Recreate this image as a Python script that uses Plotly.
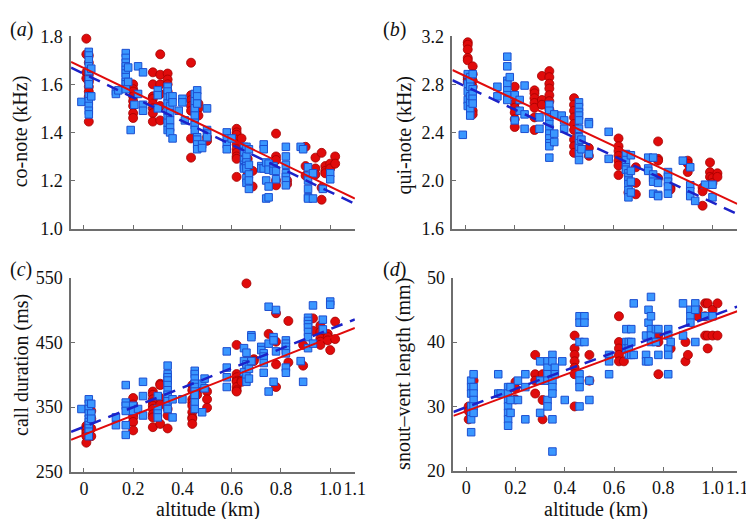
import plotly.graph_objects as go

# ---------------- data ----------------
# groups: (altitude km, [values...])
A_RED = [(0.01, [1.79, 1.725, 1.65, 1.625]),
         (0.02, [1.72, 1.69, 1.66, 1.64, 1.62, 1.61, 1.59, 1.57, 1.55, 1.445]),
         (0.2, [1.60, 1.58, 1.57, 1.55, 1.53, 1.51, 1.48, 1.46]),
         (0.28, [1.65, 1.60, 1.55, 1.54, 1.52, 1.50, 1.48, 1.445]),
         (0.31, [1.725, 1.64, 1.60, 1.56, 1.51, 1.45]),
         (0.34, [1.645, 1.62, 1.60, 1.57]),
         (0.435, [1.69, 1.555, 1.535, 1.51, 1.49, 1.375, 1.295]),
         (0.465, [1.52, 1.50, 1.47]),
         (0.5, [1.38, 1.365]),
         (0.62, [1.415, 1.40, 1.39, 1.37, 1.35, 1.33, 1.315, 1.30, 1.29, 1.215]),
         (0.64, [1.375]),
         (0.665, [1.29, 1.225, 1.19]),
         (0.685, [1.24, 1.175]),
         (0.78, [1.395, 1.30, 1.285, 1.20, 1.18]),
         (0.825, [1.20, 1.185]),
         (0.9, [1.34, 1.26, 1.22]),
         (0.94, [1.295, 1.25, 1.225]),
         (0.965, [1.315, 1.17, 1.12]),
         (0.98, [1.26, 1.24, 1.23]),
         (1.0, [1.27, 1.25]),
         (1.02, [1.30, 1.27])]
A_BLUE = [(-0.01, [1.527]),
          (0.02, [1.735, 1.72, 1.70, 1.675, 1.655, 1.62, 1.60, 1.55, 1.53, 1.51, 1.49, 1.475]),
          (0.03, [1.665, 1.55]),
          (0.13, [1.57, 1.56]),
          (0.14, [1.575]),
          (0.17, [1.73, 1.71, 1.69, 1.675, 1.66, 1.645, 1.63, 1.61, 1.60, 1.58]),
          (0.18, [1.67, 1.61]),
          (0.19, [1.41]),
          (0.205, [1.515]),
          (0.22, [1.675, 1.56]),
          (0.24, [1.65, 1.515, 1.49]),
          (0.3, [1.575, 1.555, 1.50]),
          (0.34, [1.59, 1.57, 1.545, 1.52, 1.49, 1.46, 1.44, 1.41]),
          (0.35, [1.55, 1.51, 1.48, 1.45, 1.42, 1.40]),
          (0.36, [1.55, 1.525, 1.375]),
          (0.385, [1.49]),
          (0.4, [1.54, 1.525]),
          (0.41, [1.45]),
          (0.45, [1.56, 1.53, 1.50, 1.47, 1.44, 1.43, 1.41]),
          (0.46, [1.575, 1.55, 1.52, 1.38, 1.37, 1.35, 1.33]),
          (0.48, [1.35, 1.335]),
          (0.5, [1.50, 1.41, 1.395, 1.38]),
          (0.58, [1.40, 1.375, 1.35, 1.33]),
          (0.6, [1.375]),
          (0.65, [1.34, 1.32, 1.285, 1.265, 1.255, 1.25]),
          (0.66, [1.34, 1.30, 1.275, 1.26, 1.25, 1.21, 1.19]),
          (0.67, [1.33, 1.265, 1.225, 1.20, 1.165]),
          (0.72, [1.26, 1.25]),
          (0.73, [1.35, 1.33, 1.25]),
          (0.74, [1.275, 1.20, 1.125]),
          (0.75, [1.27, 1.245, 1.175, 1.13]),
          (0.77, [1.26, 1.25, 1.24]),
          (0.78, [1.24, 1.205]),
          (0.82, [1.34, 1.30, 1.265, 1.23, 1.215, 1.20, 1.18]),
          (0.88, [1.34]),
          (0.89, [1.33]),
          (0.91, [1.255, 1.22, 1.20, 1.165, 1.13, 1.125]),
          (0.93, [1.125, 1.23]),
          (0.97, [1.165]),
          (1.0, [1.23, 1.205])]

B_RED = [(0.01, [3.15, 3.13, 3.09, 3.02, 3.0, 2.86, 2.84, 2.82]),
         (0.03, [2.95, 2.885, 2.83, 2.78, 2.58, 2.55]),
         (0.2, [2.78, 2.645, 2.605, 2.565, 2.51, 2.445]),
         (0.28, [2.75, 2.725, 2.685, 2.645, 2.605, 2.525, 2.42]),
         (0.31, [2.87, 2.67, 2.63]),
         (0.34, [2.91, 2.86, 2.805, 2.765, 2.71, 2.66, 2.59, 2.55]),
         (0.44, [2.685, 2.63, 2.58, 2.525, 2.47, 2.42, 2.34, 2.285, 2.23]),
         (0.5, [2.27, 2.205]),
         (0.62, [2.35, 2.285, 2.245, 2.205, 2.165, 2.125, 2.045]),
         (0.66, [1.90]),
         (0.69, [2.11, 1.98, 1.885]),
         (0.78, [2.325, 2.18, 2.165, 2.02]),
         (0.83, [1.94, 1.925]),
         (0.9, [2.165, 2.14, 2.07]),
         (0.96, [1.94, 1.91, 1.79]),
         (0.99, [2.15, 2.07, 2.03]),
         (1.0, [2.02, 1.98]),
         (1.02, [2.06, 2.03])]
B_BLUE = [(-0.01, [2.38]),
          (0.01, [2.885, 2.805, 2.74, 2.67, 2.62]),
          (0.02, [2.86, 2.83, 2.78, 2.70, 2.645, 2.59, 2.54]),
          (0.03, [2.885, 2.76, 2.72, 2.68, 2.64]),
          (0.13, [2.78, 2.70]),
          (0.17, [3.03, 2.95, 2.83, 2.805, 2.75, 2.71, 2.67]),
          (0.18, [2.86]),
          (0.2, [2.71, 2.50]),
          (0.22, [2.67, 2.58]),
          (0.24, [2.79, 2.55, 2.43]),
          (0.3, [2.525, 2.43]),
          (0.34, [2.63, 2.58, 2.525, 2.47, 2.43, 2.39, 2.35, 2.31, 2.285, 2.19]),
          (0.36, [2.55, 2.39, 2.32]),
          (0.39, [2.54]),
          (0.4, [2.50, 2.43]),
          (0.46, [2.65, 2.61, 2.57, 2.54, 2.50, 2.43, 2.36, 2.31, 2.27, 2.22, 2.17]),
          (0.47, [2.34, 2.26]),
          (0.5, [2.485, 2.47, 2.22]),
          (0.58, [2.405, 2.18]),
          (0.65, [2.22, 2.17, 2.11, 2.09]),
          (0.66, [2.06, 2.03, 2.00, 1.97, 1.92, 1.86]),
          (0.67, [2.21, 2.08, 1.99, 1.90]),
          (0.74, [2.19, 2.10, 2.08]),
          (0.76, [2.19, 2.05, 2.02, 1.99, 1.89]),
          (0.78, [1.98, 1.88, 1.87]),
          (0.82, [2.07, 2.03, 1.99, 1.95, 1.89]),
          (0.88, [2.165]),
          (0.91, [2.11, 1.96, 1.91, 1.87]),
          (0.93, [1.83]),
          (0.97, [1.965]),
          (1.0, [1.965, 1.86])]

C_RED = [(0.01, [321, 317, 315, 310, 305, 295]),
         (0.03, [344, 332, 317, 305]),
         (0.2, [364, 354, 347, 339, 334, 327, 314]),
         (0.28, [374, 369, 362, 357, 352, 347, 339, 334, 319]),
         (0.31, [386, 384, 364, 354, 324]),
         (0.34, [347, 337, 317]),
         (0.44, [384, 376, 362, 357, 352, 342, 334, 332, 324]),
         (0.46, [376, 369]),
         (0.5, [374, 362, 349]),
         (0.62, [446, 401, 396, 391, 389, 381, 376, 374]),
         (0.64, [391, 389]),
         (0.66, [541, 421, 416]),
         (0.69, [424, 421]),
         (0.75, [463]),
         (0.78, [495, 451, 416, 381]),
         (0.83, [483, 419]),
         (0.89, [446, 414]),
         (0.93, [487, 468]),
         (0.96, [476, 466, 456, 451, 446]),
         (0.99, [463, 458, 453]),
         (1.0, [438]),
         (1.02, [482, 455])]
C_BLUE = [(-0.01, [347]),
          (0.02, [362, 355, 347, 340, 332, 327, 322, 317, 312, 305]),
          (0.03, [355, 340, 332]),
          (0.13, [334, 322]),
          (0.17, [384, 357, 352, 344, 322, 307]),
          (0.2, [352, 344]),
          (0.22, [347]),
          (0.24, [389, 367, 337]),
          (0.3, [367, 347, 340, 334]),
          (0.34, [414, 401, 396, 391, 384, 376, 369, 359, 347]),
          (0.36, [362, 334]),
          (0.4, [362]),
          (0.45, [406, 401, 394, 386, 381, 374, 369, 357, 347]),
          (0.48, [386, 342]),
          (0.49, [394, 379]),
          (0.58, [436, 411, 396, 381]),
          (0.65, [441, 421, 404]),
          (0.66, [434, 416, 399, 389]),
          (0.67, [409, 394]),
          (0.68, [461, 458, 421]),
          (0.72, [443, 438]),
          (0.73, [433, 428, 418, 403]),
          (0.75, [505, 374, 448]),
          (0.77, [458, 453, 389]),
          (0.78, [500, 436]),
          (0.82, [453, 448, 443, 438, 433, 411, 403]),
          (0.88, [421]),
          (0.89, [389]),
          (0.91, [488, 483, 478, 473, 466, 458, 441]),
          (0.93, [507, 448]),
          (0.97, [485, 470]),
          (1.0, [513, 508])]

D_RED = [(0.01, [30, 29.3, 28]),
         (0.03, [34]),
         (0.2, [33.8, 32.8, 31.1]),
         (0.28, [38, 35, 34, 32]),
         (0.31, [35, 31, 28]),
         (0.34, [34]),
         (0.44, [41, 39, 38, 37, 36, 35, 30]),
         (0.5, [38, 34]),
         (0.62, [44, 40, 39, 38, 37]),
         (0.64, [37]),
         (0.78, [41, 40, 35]),
         (0.83, [39]),
         (0.89, [40, 37]),
         (0.9, [38]),
         (0.94, [45, 44]),
         (0.97, [46, 44, 41]),
         (0.98, [46, 41, 39]),
         (1.0, [45, 41]),
         (1.02, [46, 41])]
D_BLUE = [(0.02, [34, 33, 32, 30, 29, 28, 26]),
          (0.03, [35, 33, 32, 31, 30, 29]),
          (0.13, [35, 32]),
          (0.14, [32]),
          (0.17, [33, 32, 31, 30, 29, 28, 27]),
          (0.18, [33, 31, 29]),
          (0.21, [34, 31]),
          (0.24, [35, 33, 28]),
          (0.3, [37, 34, 29]),
          (0.33, [37, 36, 35, 34, 31, 30]),
          (0.35, [38, 37, 34, 33, 32, 28, 23]),
          (0.36, [36, 35]),
          (0.39, [37]),
          (0.4, [31]),
          (0.46, [44, 43, 40, 35, 34, 33, 30]),
          (0.48, [44, 43, 40]),
          (0.5, [34, 31]),
          (0.58, [38, 37, 35]),
          (0.65, [42, 40, 39]),
          (0.66, [40, 39, 38]),
          (0.67, [42, 40, 38]),
          (0.68, [46, 38]),
          (0.73, [41, 38, 37]),
          (0.74, [45, 43, 37]),
          (0.75, [47, 44, 42, 41, 40]),
          (0.77, [42, 40]),
          (0.78, [42, 38]),
          (0.82, [42, 41, 39, 38, 35]),
          (0.83, [40]),
          (0.88, [46, 41]),
          (0.91, [45, 44, 43]),
          (0.93, [46, 45, 40]),
          (0.97, [44]),
          (1.0, [44])]

# regression lines: (intercept, slope)
FIT_RED = [(1.668, -0.494), (2.869, -0.967), (307.1, 150.0), (29.27, 14.09)]
FIT_BLUE = [(1.644, -0.492), (2.784, -0.967), (319.5, 150.9), (29.88, 14.2)]

Y_TITLES = ["co-note (kHz)", "qui-note (kHz)", "call duration (ms)", "snout\u2013vent length (mm)"]
Y_TICKS = [[1.0, 1.2, 1.4, 1.6, 1.8], [1.6, 2.0, 2.4, 2.8, 3.2],
           [250, 350, 450, 550], [20, 30, 40, 50]]
Y_TICKTEXT = [["1.0", "1.2", "1.4", "1.6", "1.8"], ["1.6", "2.0", "2.4", "2.8", "3.2"],
              ["250", "350", "450", "550"], ["20", "30", "40", "50"]]
X_TICKS = [0, 0.2, 0.4, 0.6, 0.8, 1.0, 1.1]
X_TICKTEXT = ["0", "0.2", "0.4", "0.6", "0.8", "1.0", "1.1"]
PANEL_LABELS = ["a", "b", "c", "d"]
X_TITLE = "altitude (km)"

# ---------------- layout helpers ----------------
W, H = 754, 519
XR = [-0.052, 1.1]
# pixel boxes (left, right, top, bottom)
BOX = [(64, 352, 19, 219), (451, 740, 19, 219), (64, 352, 270, 472), (452, 740, 270, 471)]

FONT = "Liberation Serif"
AX_COLOR = "#6e6e6e"
RED = "#e00b0b"
RED_EDGE = "#a30000"
BLUE = "#3a97ff"
BLUE_EDGE = "#1d4fd0"
DASH_BLUE = "#1c22c8"
TICK_SIZE = 18
TITLE_SIZE = 20


def expand(groups):
    xs, ys = [], []
    for x, vals in groups:
        for v in vals:
            xs.append(x)
            ys.append(v)
    return xs, ys


fig = go.Figure()
reds = [A_RED, B_RED, C_RED, D_RED]
blues = [A_BLUE, B_BLUE, C_BLUE, D_BLUE]

for i in range(4):
    sfx = "" if i == 0 else str(i + 1)
    xa, ya = "x" + sfx, "y" + sfx
    rx, ry = expand(reds[i])
    bx, by = expand(blues[i])
    fig.add_trace(go.Scatter(x=rx, y=ry, mode="markers", xaxis=xa, yaxis=ya,
                             marker=dict(symbol="circle", size=9, color=RED,
                                         line=dict(color=RED_EDGE, width=0.8)),
                             showlegend=False, cliponaxis=False))
    fig.add_trace(go.Scatter(x=bx, y=by, mode="markers", xaxis=xa, yaxis=ya,
                             marker=dict(symbol="square", size=7.5, color=BLUE,
                                         line=dict(color=BLUE_EDGE, width=1)),
                             showlegend=False, cliponaxis=False))
    b0, b1 = FIT_BLUE[i]
    r0, r1 = FIT_RED[i]
    fig.add_trace(go.Scatter(x=XR, y=[b0 + b1 * x for x in XR], mode="lines",
                             xaxis=xa, yaxis=ya,
                             line=dict(color=DASH_BLUE, width=2.5, dash="12px,8px"),
                             showlegend=False))
    fig.add_trace(go.Scatter(x=XR, y=[r0 + r1 * x for x in XR], mode="lines",
                             xaxis=xa, yaxis=ya,
                             line=dict(color=RED, width=2),
                             showlegend=False))

layout = dict(width=W, height=H, margin=dict(l=0, r=0, t=0, b=0),
              paper_bgcolor="white", plot_bgcolor="white",
              font=dict(family=FONT, size=TICK_SIZE, color="#111"))
annotations = []
for i in range(4):
    sfx = "" if i == 0 else str(i + 1)
    l, r, t, b = BOX[i]
    show_x = i >= 2
    layout["xaxis" + sfx] = dict(
        domain=[l / W, r / W], range=XR, anchor="y" + sfx,
        showline=True, linecolor=AX_COLOR, linewidth=1.5,
        ticks="inside", ticklen=4, tickwidth=1.2, tickcolor=AX_COLOR,
        tickvals=X_TICKS, ticktext=X_TICKTEXT, showticklabels=show_x,
        tickangle=0, showgrid=False, zeroline=False,
        tickfont=dict(family=FONT, size=TICK_SIZE, color="#111"))
    yt = Y_TICKS[i]
    layout["yaxis" + sfx] = dict(
        domain=[1 - b / H, 1 - t / H], range=[yt[0], yt[-1]], anchor="x" + sfx,
        showline=True, linecolor=AX_COLOR, linewidth=1.5,
        ticks="inside", ticklen=4, tickwidth=1.2, tickcolor=AX_COLOR,
        tickvals=yt, ticktext=Y_TICKTEXT[i],
        showgrid=False, zeroline=False, ticklabelstandoff=3,
        tickfont=dict(family=FONT, size=TICK_SIZE, color="#111"))
    # y axis title
    tx = 13 if i in (0, 2) else 402
    ty = [118, 122, 361, 370][i]
    annotations.append(dict(text=Y_TITLES[i], xref="paper", yref="paper",
                            x=tx / W, y=1 - ty / H, showarrow=False, textangle=-90,
                            xanchor="center", yanchor="middle",
                            font=dict(family=FONT, size=TITLE_SIZE, color="#111")))
    # panel label
    px = 0 if i in (0, 2) else 379
    py = 12 if i < 2 else 262
    annotations.append(dict(text="(<i>%s</i>)" % PANEL_LABELS[i], xref="paper", yref="paper",
                            x=px / W, y=1 - py / H, showarrow=False,
                            xanchor="left", yanchor="middle",
                            font=dict(family=FONT, size=TITLE_SIZE, color="#111")))
    if show_x:
        cx = 203 if i == 2 else 597
        annotations.append(dict(text=X_TITLE, xref="paper", yref="paper",
                                x=cx / W, y=1 - 511 / H, showarrow=False,
                                xanchor="center", yanchor="middle",
                                font=dict(family=FONT, size=TITLE_SIZE, color="#111")))
layout["annotations"] = annotations
fig.update_layout(**layout)
fig.write_html("out.html")
